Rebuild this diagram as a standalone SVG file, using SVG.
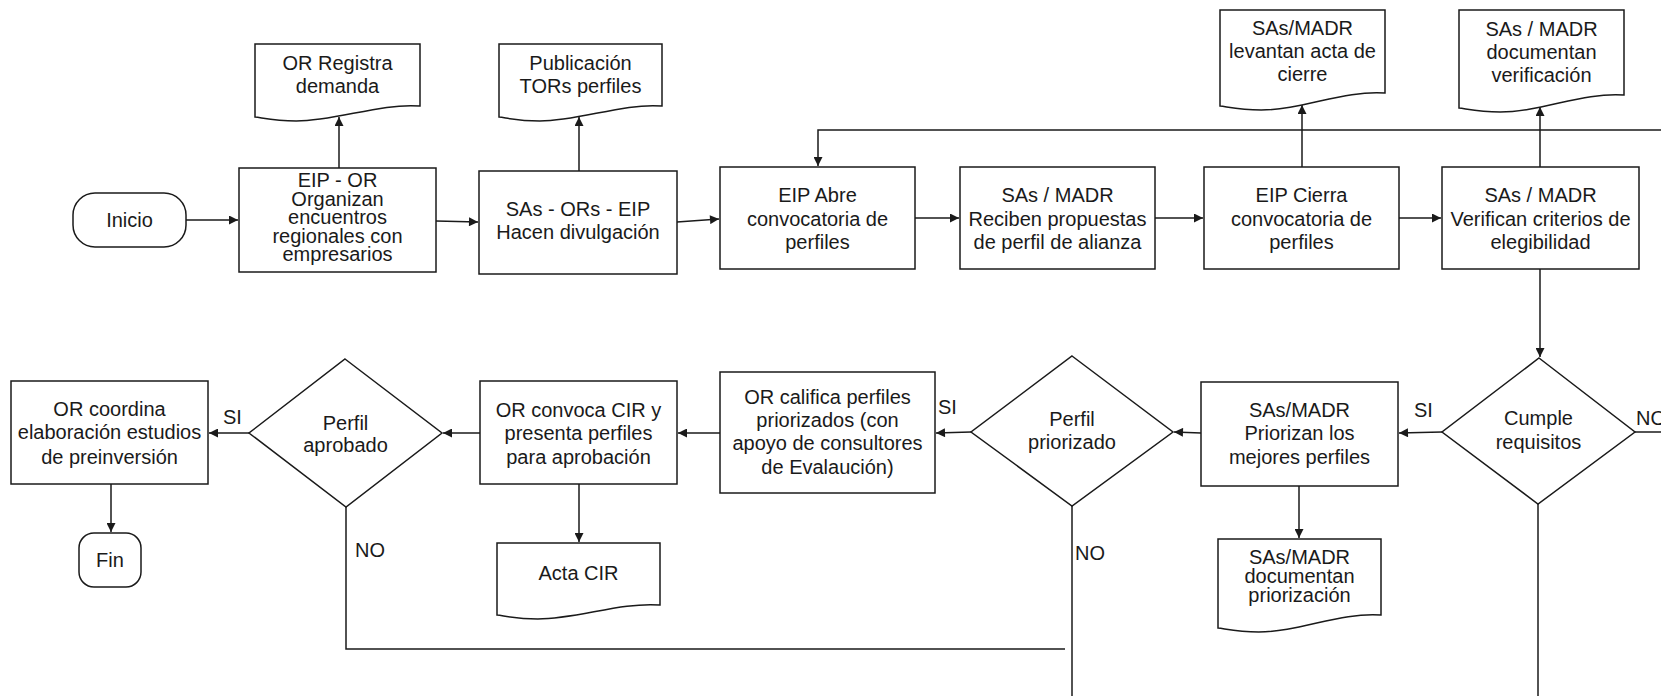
<svg xmlns="http://www.w3.org/2000/svg" width="1661" height="696" viewBox="0 0 1661 696">
<defs>
<style>
.n{fill:#fff;stroke:#1a1a1a;stroke-width:1.5}
.t{font-family:"Liberation Sans",Arial,sans-serif;font-size:20px;fill:#1a1a1a;text-anchor:middle}
.l{font-family:"Liberation Sans",Arial,sans-serif;font-size:20px;fill:#1a1a1a}
.c{fill:none;stroke:#1a1a1a;stroke-width:1.5}
.a{marker-end:url(#ah)}
</style>
<marker id="ah" viewBox="0 0 10 10" refX="10" refY="5" markerWidth="10" markerHeight="9" orient="auto" markerUnits="userSpaceOnUse"><path d="M0,0 L10,5 L0,10 Z" fill="#1a1a1a"/></marker>
</defs>
<rect width="1661" height="696" fill="#fff"/>
<g id="connectors">
<path class="c a" d="M186,220 H238"/>
<path class="c a" d="M339,168 V117"/>
<path class="c a" d="M436,221 L478,222"/>
<path class="c a" d="M579,171 V117"/>
<path class="c a" d="M677,222 L719,219"/>
<path class="c a" d="M915,218 H959"/>
<path class="c a" d="M1155,218 H1203"/>
<path class="c a" d="M1302,167 V105"/>
<path class="c a" d="M1399,218 H1441"/>
<path class="c a" d="M1540,167 V107"/>
<path class="c a" d="M1661,130 H818 V166"/>
<path class="c a" d="M1540,269 V357"/>
<path class="c" d="M1635,432 H1661"/>
<path class="c" d="M1538,504 V696"/>
<path class="c a" d="M1442,432 L1399,433"/>
<path class="c a" d="M1299,486 V538"/>
<path class="c a" d="M1201,433 L1174,432"/>
<path class="c a" d="M971,432 L936,433"/>
<path class="c" d="M1072,506 V696"/>
<path class="c a" d="M720,433 H678"/>
<path class="c a" d="M579,484 V542"/>
<path class="c a" d="M480,433 H443"/>
<path class="c a" d="M249,433 H209"/>
<path class="c a" d="M111,484 V532"/>
<path class="c" d="M346,507 V649 H1065"/>
<text class="l" x="1414" y="417">SI</text>
<text class="l" x="1636" y="425">NO</text>
<text class="l" x="938" y="414">SI</text>
<text class="l" x="1075" y="560">NO</text>
<text class="l" x="223" y="424">SI</text>
<text class="l" x="355" y="557">NO</text>
</g>
<g id="inicio">
<rect class="n" x="73" y="193" width="113" height="54" rx="22"/>
<text class="t" x="129.5" y="227">Inicio</text>
</g>
<g id="box1">
<rect class="n" x="239" y="168" width="197" height="104"/>
<text class="t" x="337.5" y="187">EIP - OR</text>
<text class="t" x="337.5" y="205.5">Organizan</text>
<text class="t" x="337.5" y="224">encuentros</text>
<text class="t" x="337.5" y="242.5">regionales con</text>
<text class="t" x="337.5" y="261">empresarios</text>
</g>
<g id="doc1">
<path class="n" d="M255,44 H420 V106 C378.75,103 337.5,121 296.25,121 C274.8,121 263.25,118 255,117 Z"/>
<text class="t" x="337.5" y="70">OR Registra</text>
<text class="t" x="337.5" y="93">demanda</text>
</g>
<g id="box2">
<rect class="n" x="479" y="171" width="198" height="103"/>
<text class="t" x="578" y="216">SAs - ORs - EIP</text>
<text class="t" x="578" y="239">Hacen divulgación</text>
</g>
<g id="doc2">
<path class="n" d="M499,44 H662 V106 C621.25,103 580.5,121 539.75,121 C518.6,121 507.2,118 499,117 Z"/>
<text class="t" x="580.5" y="70">Publicación</text>
<text class="t" x="580.5" y="93">TORs perfiles</text>
</g>
<g id="box3">
<rect class="n" x="720" y="167" width="195" height="102"/>
<text class="t" x="817.5" y="202">EIP Abre</text>
<text class="t" x="817.5" y="225.5">convocatoria de</text>
<text class="t" x="817.5" y="249">perfiles</text>
</g>
<g id="box4">
<rect class="n" x="960" y="167" width="195" height="102"/>
<text class="t" x="1057.5" y="202">SAs / MADR</text>
<text class="t" x="1057.5" y="225.5">Reciben propuestas</text>
<text class="t" x="1057.5" y="249">de perfil de alianza</text>
</g>
<g id="box5">
<rect class="n" x="1204" y="167" width="195" height="102"/>
<text class="t" x="1301.5" y="202">EIP Cierra</text>
<text class="t" x="1301.5" y="225.5">convocatoria de</text>
<text class="t" x="1301.5" y="249">perfiles</text>
</g>
<g id="doc3">
<path class="n" d="M1220,10 H1385 V93 C1343.75,90 1302.5,110 1261.25,110 C1239.8,110 1228.25,107 1220,106 Z"/>
<text class="t" x="1302.5" y="35">SAs/MADR</text>
<text class="t" x="1302.5" y="58">levantan acta de</text>
<text class="t" x="1302.5" y="81">cierre</text>
</g>
<g id="box6">
<rect class="n" x="1442" y="167" width="197" height="102"/>
<text class="t" x="1540.5" y="202">SAs / MADR</text>
<text class="t" x="1540.5" y="225.5">Verifican criterios de</text>
<text class="t" x="1540.5" y="249">elegibilidad</text>
</g>
<g id="doc4">
<path class="n" d="M1459,10 H1624 V95 C1582.75,92 1541.5,112 1500.25,112 C1478.8,112 1467.25,109 1459,108 Z"/>
<text class="t" x="1541.5" y="36">SAs / MADR</text>
<text class="t" x="1541.5" y="59">documentan</text>
<text class="t" x="1541.5" y="82">verificación</text>
</g>
<g id="cumple">
<polygon class="n" points="1539,358 1635,432 1538,504 1442,432"/>
<text class="t" x="1538.5" y="425">Cumple</text>
<text class="t" x="1538.5" y="449">requisitos</text>
</g>
<g id="box7">
<rect class="n" x="1201" y="382" width="197" height="104"/>
<text class="t" x="1299.5" y="417">SAs/MADR</text>
<text class="t" x="1299.5" y="440">Priorizan los</text>
<text class="t" x="1299.5" y="464">mejores perfiles</text>
</g>
<g id="doc5">
<path class="n" d="M1218,539 H1381 V615 C1340.25,612 1299.5,632 1258.75,632 C1237.6,632 1226.2,629 1218,628 Z"/>
<text class="t" x="1299.5" y="564">SAs/MADR</text>
<text class="t" x="1299.5" y="583">documentan</text>
<text class="t" x="1299.5" y="602">priorización</text>
</g>
<g id="priorizado">
<polygon class="n" points="1072,356 1173,432 1072,506 971,432"/>
<text class="t" x="1072" y="426">Perfil</text>
<text class="t" x="1072" y="449">priorizado</text>
</g>
<g id="box8">
<rect class="n" x="720" y="372" width="215" height="121"/>
<text class="t" x="827.5" y="404">OR califica perfiles</text>
<text class="t" x="827.5" y="427">priorizados (con</text>
<text class="t" x="827.5" y="450">apoyo de consultores</text>
<text class="t" x="827.5" y="474">de Evalaución)</text>
</g>
<g id="box9">
<rect class="n" x="480" y="381" width="197" height="103"/>
<text class="t" x="578.5" y="417">OR convoca CIR y</text>
<text class="t" x="578.5" y="440">presenta perfiles</text>
<text class="t" x="578.5" y="464">para aprobación</text>
</g>
<g id="acta">
<path class="n" d="M497,543 H660 V605 C619.25,602 578.5,619 537.75,619 C516.6,619 505.2,616 497,615 Z"/>
<text class="t" x="578.5" y="580">Acta CIR</text>
</g>
<g id="aprobado">
<polygon class="n" points="345,359 442,433 346,507 249,433"/>
<text class="t" x="345.5" y="430">Perfil</text>
<text class="t" x="345.5" y="452">aprobado</text>
</g>
<g id="box10">
<rect class="n" x="11" y="381" width="197" height="103"/>
<text class="t" x="109.5" y="416">OR coordina</text>
<text class="t" x="109.5" y="439">elaboración estudios</text>
<text class="t" x="109.5" y="464">de preinversión</text>
</g>
<g id="fin">
<rect class="n" x="79" y="533" width="62" height="54" rx="15"/>
<text class="t" x="110" y="567">Fin</text>
</g>
</svg>
